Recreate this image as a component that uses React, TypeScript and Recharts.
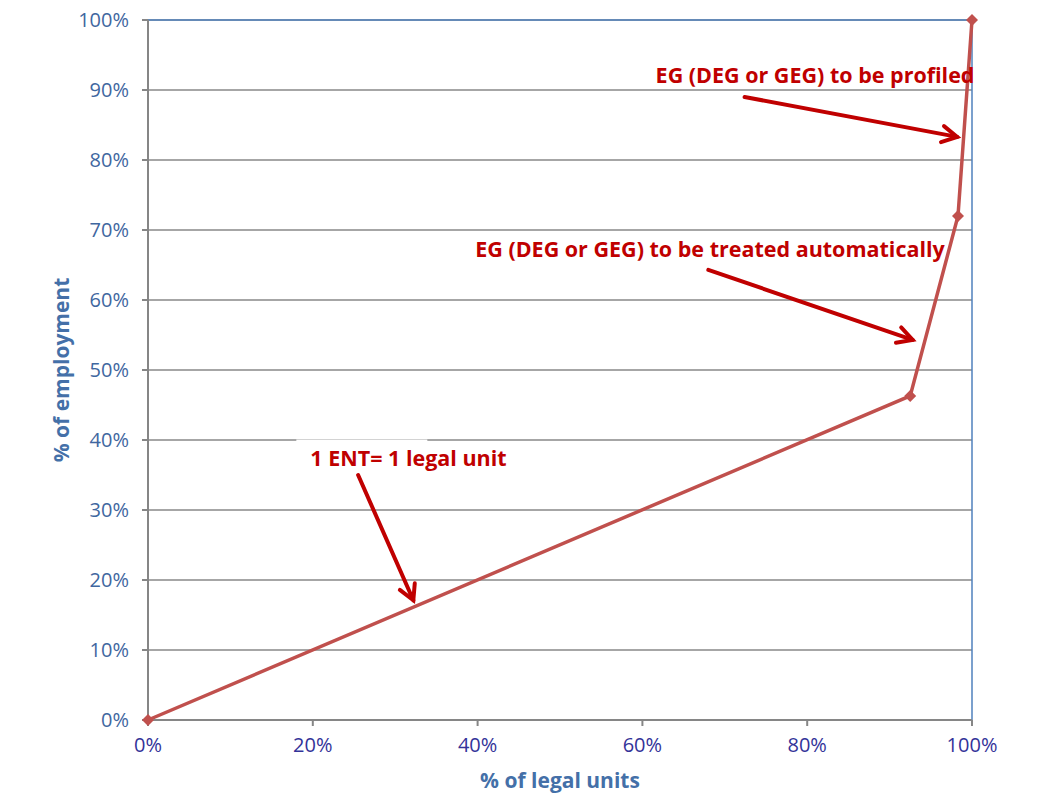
import {
  CartesianGrid,
  Line,
  LineChart,
  ReferenceDot,
  ReferenceLine,
  XAxis,
  YAxis,
} from "recharts";

const legalUnitsPct = [0, 92.5, 98.3, 100];
const employmentPct = [0, 46.3, 72, 100];
const xTicks = [0, 20, 40, 60, 80, 100];
const yTicks = [0, 10, 20, 30, 40, 50, 60, 70, 80, 90, 100];

// annotation arrows: [startX, startY, endX, endY] in data units
const arrowSegments = [
  [72.4, 89.0, 98.2, 83.3],
  [68.0, 64.3, 92.8, 54.3],
  [25.5, 35.0, 32.2, 17.1],
];

const notes = [
  { x: 100.3, y: 92.2, text: "EG (DEG or GEG) to be profiled", anchor: "end" },
  { x: 96.7, y: 67.3, text: "EG (DEG or GEG) to be treated automatically", anchor: "end" },
  { x: 19.7, y: 37.5, text: "1 ENT= 1 legal unit", anchor: "start" },
];

const data = legalUnitsPct.map((x, i) => ({ x, y: employmentPct[i] }));

const RED = "#c00000";
const LINE = "#c0504d";
const FONT = "'Open Sans', Lato, sans-serif";

const Diamond = (props: any) => {
  const { cx, cy } = props;
  if (cx == null || cy == null) return null;
  const s = 6;
  return (
    <polygon
      points={`${cx},${cy - s} ${cx + s},${cy} ${cx},${cy + s} ${cx - s},${cy}`}
      fill={LINE}
    />
  );
};

const Arrow = (props: any) => {
  const { x1, y1, x2, y2 } = props;
  if (x1 == null) return null;
  const ang = Math.atan2(y2 - y1, x2 - x1);
  const len = 17;
  const spread = 0.5;
  const ax = x2 - len * Math.cos(ang - spread);
  const ay = y2 - len * Math.sin(ang - spread);
  const bx = x2 - len * Math.cos(ang + spread);
  const by = y2 - len * Math.sin(ang + spread);
  return (
    <g stroke={RED} strokeWidth={4} fill="none" strokeLinecap="round">
      <line x1={x1} y1={y1} x2={x2} y2={y2} />
      <polyline points={`${ax},${ay} ${x2},${y2} ${bx},${by}`} strokeLinejoin="miter" />
    </g>
  );
};

const makeNote = (text: string, anchor: string, withBox: boolean) => (props: any) => {
  const { cx, cy } = props;
  if (cx == null) return null;
  return (
    <g>
      {withBox && <rect x={cx - 14} y={cy - 18} width={131} height={14} fill="#fff" />}
      <text
        x={cx}
        y={cy}
        textAnchor={anchor}
        dominantBaseline="central"
        fill={RED}
        fontFamily={FONT}
        fontWeight={700}
        fontSize={21.5}
      >
        {text}
      </text>
    </g>
  );
};

export default function App() {
  return (
    <div style={{ width: 1049, height: 794, fontFamily: FONT }}>
      <style>{`body { margin: 0; overflow: hidden; }`}</style>
      <LineChart
        width={1049}
        height={794}
        data={data}
        margin={{ top: 20, right: 77, bottom: 4, left: 68 }}
      >
        <CartesianGrid vertical={false} stroke="#a6a6a6" strokeWidth={2} />
        <XAxis
          dataKey="x"
          type="number"
          domain={[0, 100]}
          ticks={xTicks}
          tickFormatter={(v) => `${v}%`}
          height={70}
          stroke="#868686"
          strokeWidth={2}
          tickSize={6}
          tickMargin={12}
          tick={{ fill: "#333399", fontSize: 20, fontFamily: FONT }}
          label={{
            value: "% of legal units",
            position: "insideBottom",
            offset: 2,
            fill: "#4470a8",
            fontWeight: 700,
            fontSize: 21,
            fontFamily: FONT,
          }}
        />
        <YAxis
          dataKey="y"
          type="number"
          domain={[0, 100]}
          ticks={yTicks}
          tickFormatter={(v) => `${v}%`}
          width={80}
          stroke="#868686"
          strokeWidth={2}
          tickSize={6}
          tickMargin={13}
          tick={{ fill: "#3f67a0", fontSize: 20, fontFamily: FONT }}
          label={{
            value: "% of employment",
            angle: -90,
            position: "insideLeft",
            offset: -6,
            style: { textAnchor: "middle" },
            fill: "#4470a8",
            fontWeight: 700,
            fontSize: 21,
            fontFamily: FONT,
          }}
        />
        <ReferenceLine y={100} stroke="#4f81bd" strokeWidth={1.5} />
        <ReferenceLine x={100} stroke="#4f81bd" strokeWidth={1.5} />
        {notes.map((n, i) => (
          <ReferenceDot
            key={"n" + i}
            x={n.x}
            y={n.y}
            r={0}
            ifOverflow="visible"
            shape={makeNote(n.text, n.anchor, i === 2)}
          />
        ))}
        {arrowSegments.map((s, i) => (
          <ReferenceLine
            key={"a" + i}
            segment={[
              { x: s[0], y: s[1] },
              { x: s[2], y: s[3] },
            ]}
            ifOverflow="visible"
            shape={Arrow}
          />
        ))}
        <Line
          type="linear"
          dataKey="y"
          stroke={LINE}
          strokeWidth={3.5}
          dot={<Diamond />}
          activeDot={false}
          isAnimationActive={false}
        />
      </LineChart>
    </div>
  );
}
